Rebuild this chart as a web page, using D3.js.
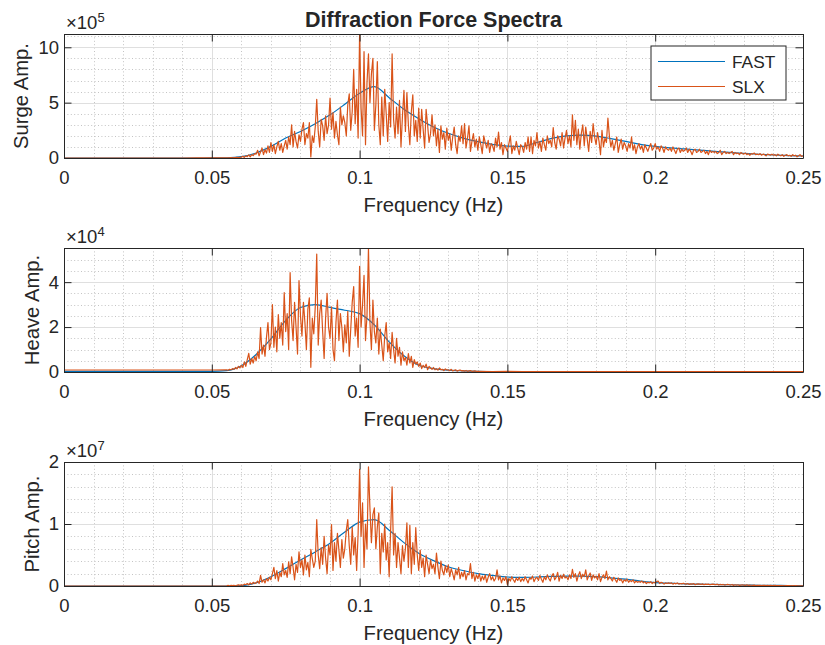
<!DOCTYPE html>
<html>
<head>
<meta charset="utf-8">
<script src="https://cdn.jsdelivr.net/npm/d3@7"></script>
<style>
  body { margin: 0; background: #fff; }
  text { font-family: "Liberation Sans", Arial, Helvetica, sans-serif; fill: #262626; }
</style>
</head>
<body>
<svg id="chart" width="825" height="645"></svg>
<script>
// ---- data (amplitudes are in units of 10^exponent of each panel) ----
const xTicks = [0, 0.05, 0.1, 0.15, 0.2, 0.25];
const xTickLabels = ["0", "0.05", "0.1", "0.15", "0.2", "0.25"];
const xMinorStep = 0.01;
const seriesNames = ["FAST", "SLX"];
const panelLabels = ["Surge Amp.", "Heave Amp.", "Pitch Amp."];
const panelExponents = [5, 4, 7];
const panelYMax = [11.2, 5.52, 2];
const panelYTicks = [[0, 5, 10], [0, 2, 4], [0, 1, 2]];
const panelYMinorStep = [1, 0.5, 0.2];

// FAST: smooth spectra, sampled every 0.005 Hz from 0 to 0.25 Hz
const fastStep = 0.005;
const surgeFAST = [0, 0, 0, 0, 0, 0, 0, 0, 0, 0, 0.005, 0.02, 0.12, 0.45, 1.05, 1.8, 2.4, 3.1, 3.9, 4.85,
  5.85, 6.45, 5.45, 4.4, 3.55, 2.8, 2.23, 1.8, 1.48, 1.23, 1.07, 1.05, 1.4, 1.78, 2.0, 2.07, 1.97, 1.75, 1.5, 1.23,
  1.05, 0.92, 0.82, 0.72, 0.6, 0.5, 0.42, 0.34, 0.27, 0.22, 0.18];
const heaveFAST = [0.03, 0.03, 0.03, 0.03, 0.03, 0.03, 0.03, 0.03, 0.03, 0.03, 0.03, 0.06, 0.28, 0.78, 1.47, 2.3, 2.87, 3.0, 2.88, 2.75,
  2.6, 2.1, 1.34, 0.72, 0.3, 0.15, 0.08, 0.05, 0.03, 0.02, 0.02, 0.02, 0.02, 0.02, 0.02, 0.02, 0.02, 0.02, 0.02, 0.02,
  0.02, 0.02, 0.02, 0.02, 0.02, 0.02, 0.02, 0.02, 0.02, 0.02, 0.02];
const pitchFAST = [0, 0, 0, 0, 0, 0, 0, 0, 0, 0, 0, 0, 0.005, 0.05, 0.15, 0.28, 0.42, 0.55, 0.69, 0.87,
  1.03, 1.07, 0.9, 0.7, 0.53, 0.41, 0.31, 0.25, 0.2, 0.17, 0.145, 0.14, 0.145, 0.155, 0.16, 0.16, 0.15, 0.13, 0.11, 0.08,
  0.055, 0.045, 0.035, 0.03, 0.025, 0.02, 0.015, 0.012, 0.01, 0.008, 0.005];

// SLX: coarse lead-in (0..0.05 Hz every 0.005), then fine spectrum every 0.0005 Hz from 0.055 Hz
const slxCoarseStep = 0.005;
const slxFineStart = 0.055;
const slxFineStep = 0.0005;
const surgeSLXLow = [0, 0, 0, 0, 0, 0, 0, 0, 0, 0.005, 0.01];
const surgeSLX = [
  0.01, 0.02, 0.01, 0.03, 0.02, 0.04, 0.03, 0.05, 0.04, 0.06,
  0.08, 0.15, 0.05, 0.2, 0.12, 0.28, 0.1, 0.3, 0.22, 0.4,
  0.35, 0.7, 0.2, 0.55, 0.9, 0.3, 0.75, 0.45, 1.1, 0.5,
  1.4, 0.6, 1.2, 0.4, 1.0, 1.5, 0.7, 1.3, 0.5, 1.1,
  1.6, 0.8, 1.9, 1.2, 3.0, 1.0, 2.4, 1.5, 0.9, 2.1,
  1.5, 2.6, 3.2, 1.2, 2.2, 1.8, 3.2, 0.1, 2.0, 1.4,
  2.8, 5.3, 2.4, 1.0, 3.5, 2.9, 1.6, 3.8, 2.2, 3.0,
  5.4, 2.6, 4.1, 1.8, 3.3, 2.1, 1.2, 4.6, 3.0, 3.8,
  3.2, 2.0, 4.8, 5.8, 2.5, 4.2, 8.0, 3.1, 6.2, 1.8,
  11.2, 4.5, 2.0, 9.6, 1.2, 6.8, 9.4, 5.0, 7.6, 9.0,
  2.5, 4.8, 8.7, 3.0, 1.2, 5.5, 2.0, 6.2, 4.0, 1.5,
  5.0, 2.8, 9.4, 3.5, 1.8, 4.6, 2.2, 5.2, 1.0, 3.8,
  6.1, 2.4, 5.9, 3.0, 1.2, 4.2, 5.7, 2.0, 3.4, 1.5,
  4.5, 1.8, 4.4, 2.6, 0.9, 4.4, 3.0, 1.4, 2.2, 3.9,
  2.0, 3.0, 1.1, 2.6, 0.5, 2.9, 1.7, 2.3, 0.8, 2.7,
  1.6, 2.2, 0.7, 1.9, 2.8, 1.2, 0.4, 2.0, 1.5, 2.9,
  1.3, 3.1, 0.9, 1.8, 2.9, 0.6, 1.5, 2.2, 1.0, 1.7,
  0.7, 1.9, 1.2, 0.4, 2.0, 1.4, 0.9, 1.6, 0.5, 1.3,
  1.1, 0.6, 1.8, 1.0, 2.35, 0.8, 1.4, 0.3, 1.2, 0.9,
  0.6, 1.3, 2.0, 0.4, 1.1, 0.7, 1.5, 0.9, 0.3, 1.2,
  1.0, 0.5, 1.4, 0.8, 1.9, 0.6, 1.9, 0.4, 1.6, 1.1,
  2.3, 0.9, 1.5, 0.6, 1.8, 1.2, 0.7, 2.0, 1.3, 1.6,
  1.0, 2.75, 1.4, 0.8, 2.0, 1.7, 1.1, 2.3, 0.9, 1.8,
  2.5, 1.3, 2.0, 1.0, 3.9, 1.6, 3.4, 1.2, 2.6, 0.8,
  2.2, 3.0, 1.1, 2.8, 1.7, 0.6, 2.4, 1.4, 3.1, 1.9,
  1.2, 2.3, 1.5, 0.3, 2.5, 1.0, 1.8, 1.4, 3.6, 2.0,
  1.0, 1.6, 0.7, 1.3, 1.9, 0.5, 1.2, 1.7, 0.8, 1.4,
  1.1, 0.6, 1.3, 0.9, 1.9, 0.7, 1.2, 0.4, 1.0, 1.3,
  0.8, 1.1, 0.5, 1.2, 0.9, 0.6, 1.0, 1.3, 0.7, 0.9,
  1.3, 0.8, 1.0, 0.6, 1.1, 0.9, 0.5, 1.0, 0.8, 0.7,
  0.9, 0.6, 1.0, 0.7, 0.4, 0.8, 0.9, 0.5, 0.8, 0.6,
  0.7, 0.9, 0.5, 0.8, 0.6, 0.3, 0.7, 0.8, 0.5, 0.6,
  0.8, 0.5, 0.6, 0.7, 0.4, 0.6, 0.3, 0.7, 0.5, 0.6,
  0.5, 0.6, 0.4, 0.5, 0.7, 0.3, 0.5, 0.6, 0.4, 0.5,
  0.4, 0.5, 0.6, 0.3, 0.5, 0.4, 0.45, 0.3, 0.5, 0.4,
  0.35, 0.45, 0.3, 0.4, 0.25, 0.4, 0.35, 0.45, 0.3, 0.35,
  0.3, 0.4, 0.25, 0.35, 0.3, 0.2, 0.35, 0.3, 0.25, 0.35,
  0.25, 0.3, 0.2, 0.35, 0.25, 0.2, 0.3, 0.15, 0.25, 0.3,
  0.2, 0.25, 0.15, 0.3, 0.2, 0.25, 0.1, 0.2, 0.3, 0.15, 0.2];
const surgeSLXTail = [];

const heaveSLXLow = [0.09, 0.09, 0.09, 0.09, 0.09, 0.09, 0.09, 0.09, 0.09, 0.09, 0.09];
const heaveSLX = [
  0.1, 0.08, 0.12, 0.1, 0.15, 0.12, 0.2, 0.14, 0.25, 0.18,
  0.3, 0.2, 0.45, 0.25, 0.55, 0.83, 0.35, 0.6, 0.4, 0.7,
  0.5, 0.9, 0.6, 1.98, 0.8, 1.2, 0.7, 1.54, 2.2, 1.0,
  1.3, 3.0, 1.1, 2.0, 0.9, 2.56, 1.5, 2.2, 1.2, 3.53,
  1.8, 2.6, 1.0, 4.42, 2.3, 1.4, 3.1, 2.0, 0.8, 4.07,
  2.5, 1.6, 3.1, 2.2, 1.0, 2.8, 3.3, 0.21, 2.4, 1.7,
  2.9, 5.25, 1.2, 2.6, 3.2, 1.8, 0.6, 2.4, 3.5, 2.0,
  1.5, 2.9, 1.0, 0.5, 2.2, 3.2, 1.4, 2.6, 1.98, 0.9,
  2.1, 1.3, 2.7, 0.7, 1.9, 3.1, 3.8, 1.6, 2.4, 1.1,
  4.7, 2.0, 3.0, 4.3, 1.4, 2.5, 5.52, 2.2, 1.0, 3.2,
  1.8, 1.3, 2.4, 0.8, 1.91, 1.2, 0.5, 1.6, 2.2, 0.9,
  1.3, 0.6, 1.76, 1.0, 0.4, 1.5, 0.7, 1.1, 0.3, 0.9,
  0.5, 0.65, 0.3, 0.82, 0.4, 0.7, 0.2, 0.55, 0.35, 0.45,
  0.25, 0.4, 0.15, 0.3, 0.2, 0.35, 0.1, 0.25, 0.18, 0.12,
  0.2, 0.1, 0.15, 0.08, 0.18, 0.1, 0.12, 0.06, 0.14, 0.09,
  0.1, 0.06, 0.12, 0.05, 0.08, 0.1, 0.04, 0.07, 0.09, 0.05,
  0.06, 0.04, 0.07, 0.03, 0.05, 0.06, 0.03, 0.04, 0.05, 0.03];
// beyond 0.14 Hz the heave SLX spectrum is flat; coarse samples every 0.005 Hz
const heaveSLXTail = [0.03, 0.02, 0.03, 0.02, 0.02, 0.02, 0.02, 0.02, 0.02, 0.02, 0.02, 0.02,
  0.02, 0.02, 0.02, 0.02, 0.02, 0.02, 0.02, 0.02, 0.02, 0.02, 0.02];

const pitchSLXLow = [0, 0, 0, 0, 0, 0, 0, 0, 0, 0, 0];
const pitchSLX = [
  0.0, 0.01, 0.0, 0.01, 0.005, 0.01, 0.0, 0.01, 0.02, 0.01,
  0.02, 0.01, 0.03, 0.02, 0.04, 0.02, 0.05, 0.03, 0.06, 0.04,
  0.05, 0.08, 0.04, 0.17, 0.06, 0.1, 0.05, 0.12, 0.08, 0.14,
  0.1, 0.2, 0.3, 0.12, 0.25, 0.08, 0.22, 0.15, 0.36, 0.18,
  0.25, 0.14, 0.39, 0.2, 0.47, 0.3, 0.1, 0.35, 0.22, 0.55,
  0.3, 0.42, 0.18, 0.5, 0.26, 0.38, 0.15, 0.59, 0.44, 0.3,
  0.4, 1.07, 0.5, 0.28, 0.62, 0.35, 0.8, 0.45, 0.2, 0.66,
  0.5, 0.99, 0.25, 0.7, 0.4, 0.85, 0.58, 0.3, 0.75, 0.45,
  0.6, 0.9, 1.07, 0.65, 0.35, 0.95, 0.5, 0.78, 0.25, 0.85,
  1.88, 0.8, 1.34, 0.3, 1.0, 0.6, 1.92, 1.25, 0.7, 1.15,
  1.26, 0.6, 0.95, 1.18, 0.2, 0.85, 0.55, 1.0, 0.42, 0.7,
  0.15, 0.9, 1.6, 0.5, 0.85, 0.3, 0.7, 0.45, 0.2, 0.65,
  0.4, 0.6, 1.02, 0.3, 0.98, 0.2, 0.7, 0.35, 0.94, 0.5,
  0.25, 0.58, 0.3, 0.45, 0.15, 0.5, 0.35, 0.2, 0.42, 0.28,
  0.35, 0.2, 0.53, 0.3, 0.12, 0.4, 0.25, 0.18, 0.33, 0.22,
  0.34, 0.15, 0.28, 0.2, 0.1, 0.26, 0.18, 0.3, 0.12, 0.22,
  0.15, 0.25, 0.1, 0.2, 0.18, 0.36, 0.12, 0.22, 0.08, 0.18,
  0.12, 0.2, 0.08, 0.16, 0.1, 0.18, 0.06, 0.14, 0.2, 0.1,
  0.15, 0.08, 0.12, 0.26, 0.1, 0.16, 0.05, 0.13, 0.09, 0.15,
  0.02, 0.12, 0.08, 0.15, 0.1, 0.06, 0.13, 0.09, 0.14, 0.07,
  0.12, 0.08, 0.15, 0.1, 0.05, 0.13, 0.11, 0.16, 0.07, 0.12,
  0.14, 0.09, 0.17, 0.11, 0.06, 0.15, 0.1, 0.18, 0.12, 0.08,
  0.16, 0.2, 0.1, 0.14, 0.22, 0.08, 0.17, 0.12, 0.19, 0.13,
  0.15, 0.1, 0.18, 0.12, 0.27, 0.14, 0.2, 0.08, 0.17, 0.23,
  0.12, 0.19, 0.15, 0.26, 0.1, 0.16, 0.21, 0.09, 0.18, 0.13,
  0.16, 0.1, 0.2, 0.07, 0.14, 0.18, 0.12, 0.24, 0.1, 0.15,
  0.12, 0.08, 0.14, 0.1, 0.06, 0.13, 0.09, 0.11, 0.05, 0.1,
  0.08, 0.11, 0.06, 0.09, 0.07, 0.1, 0.05, 0.08, 0.06, 0.07,
  0.06, 0.08, 0.05, 0.07, 0.04, 0.06, 0.05, 0.07, 0.04, 0.06,
  0.05, 0.07, 0.08, 0.04, 0.06, 0.05, 0.03, 0.05, 0.04, 0.05,
  0.04, 0.05, 0.03, 0.045, 0.035, 0.05, 0.03, 0.04, 0.035, 0.045,
  0.035, 0.03, 0.04, 0.025, 0.035, 0.03, 0.04, 0.02, 0.03, 0.035,
  0.03, 0.025, 0.035, 0.02, 0.03, 0.025, 0.03, 0.02, 0.025, 0.03,
  0.025, 0.02, 0.03, 0.015, 0.025, 0.02, 0.025, 0.015, 0.02, 0.025,
  0.02, 0.015, 0.025, 0.01, 0.02, 0.015, 0.02, 0.01, 0.015, 0.02,
  0.015, 0.01, 0.02, 0.01, 0.015, 0.012, 0.01, 0.015, 0.008, 0.012,
  0.01, 0.012, 0.008, 0.01, 0.012, 0.006, 0.01, 0.008, 0.01, 0.006,
  0.008, 0.01, 0.006, 0.008, 0.005, 0.008, 0.006, 0.004, 0.007, 0.005,
  0.005, 0.006, 0.004, 0.005, 0.003, 0.005, 0.004, 0.003, 0.004, 0.003, 0.004];
const pitchSLXTail = [];

// ---- layout ----
const colors = ["#0072BD", "#D95319"];
const axLeft = 64, axRight = 803, axHeight = 124;
const axTops = [34, 248, 462];
const tickLen = 7.5;
const fontTick = 18.5, fontLabel = 20.3, fontTitle = 21.5, fontLegend = 17.3;

const fastSets = [surgeFAST, heaveFAST, pitchFAST];
const slxSets = [[surgeSLXLow, surgeSLX, surgeSLXTail], [heaveSLXLow, heaveSLX, heaveSLXTail], [pitchSLXLow, pitchSLX, pitchSLXTail]];

const fastPoints = vals => vals.map((v, i) => [i * fastStep, v]);
const slxPoints = ([low, fine, tail]) => {
  const fineEnd = slxFineStart + fine.length * slxFineStep;
  return [].concat(
    low.map((v, i) => [i * slxCoarseStep, v]),
    fine.map((v, i) => [slxFineStart + i * slxFineStep, v]),
    tail.map((v, i) => [fineEnd + i * slxCoarseStep, v]));
};

const svg = d3.select("#chart");
const x = d3.scaleLinear().domain([0, 0.25]).range([axLeft, axRight]);

svg.append("text")
  .attr("x", (axLeft + axRight) / 2).attr("y", 27)
  .attr("text-anchor", "middle").attr("font-weight", "bold").attr("font-size", fontTitle)
  .text("Diffraction Force Spectra");

panelLabels.forEach((label, p) => {
  const top = axTops[p], bottom = top + axHeight;
  const y = d3.scaleLinear().domain([0, panelYMax[p]]).range([bottom, top]);
  const g = svg.append("g");

  const clipId = "clip" + p;
  g.append("clipPath").attr("id", clipId).append("rect")
    .attr("x", axLeft).attr("y", top).attr("width", axRight - axLeft).attr("height", axHeight);

  // minor grid (dotted)
  const isMajor = (v, arr) => arr.some(t => Math.abs(t - v) < 1e-9);
  const xMinor = d3.range(0, 0.25 + 1e-9, xMinorStep).filter(v => !isMajor(v, xTicks));
  const yMinor = d3.range(0, panelYMax[p] + 1e-9, panelYMinorStep[p]).filter(v => !isMajor(v, panelYTicks[p]));
  const minor = g.append("g").attr("stroke", "#c4c4c4").attr("stroke-dasharray", "1,2.4").attr("stroke-width", 1);
  minor.selectAll("line.vx").data(xMinor).enter().append("line")
    .attr("x1", d => Math.round(x(d)) + 0.5).attr("x2", d => Math.round(x(d)) + 0.5)
    .attr("y1", top).attr("y2", bottom);
  minor.selectAll("line.hy").data(yMinor).enter().append("line")
    .attr("y1", d => Math.round(y(d)) + 0.5).attr("y2", d => Math.round(y(d)) + 0.5)
    .attr("x1", axLeft).attr("x2", axRight);

  // major grid (solid, light)
  const major = g.append("g").attr("stroke", "#dfdfdf").attr("stroke-width", 1);
  major.selectAll("line.vx").data(xTicks.slice(1, -1)).enter().append("line")
    .attr("x1", d => Math.round(x(d)) + 0.5).attr("x2", d => Math.round(x(d)) + 0.5)
    .attr("y1", top).attr("y2", bottom);
  major.selectAll("line.hy").data(panelYTicks[p].filter(v => v > 0 && v < panelYMax[p])).enter().append("line")
    .attr("y1", d => Math.round(y(d)) + 0.5).attr("y2", d => Math.round(y(d)) + 0.5)
    .attr("x1", axLeft).attr("x2", axRight);

  // series
  const lineFast = d3.line().x(d => x(d[0])).y(d => y(d[1])).curve(d3.curveMonotoneX);
  const lineSlx = d3.line().x(d => x(d[0])).y(d => y(d[1]));
  const plot = g.append("g").attr("clip-path", `url(#${clipId})`).attr("fill", "none").attr("stroke-width", 1.2);
  plot.append("path").attr("d", lineFast(fastPoints(fastSets[p]))).attr("stroke", colors[0]);
  plot.append("path").attr("d", lineSlx(slxPoints(slxSets[p]))).attr("stroke", colors[1]).attr("stroke-linejoin", "round");

  // axes (ticks point inward, box on)
  const styleAxis = sel => {
    sel.select(".domain").attr("stroke", "#262626");
    sel.selectAll(".tick line").attr("stroke", "#262626");
    sel.selectAll(".tick text").attr("fill", "#262626").attr("font-size", fontTick)
      .attr("font-family", '"Liberation Sans", Arial, sans-serif');
  };
  const xAxis = d3.axisBottom(x).tickValues(xTicks).tickFormat((d, i) => xTickLabels[i])
    .tickSizeInner(-tickLen).tickSizeOuter(0).tickPadding(13);
  g.append("g").attr("transform", `translate(0,${bottom})`).call(xAxis).call(styleAxis);
  g.append("g").attr("transform", `translate(0,${top})`)
    .call(d3.axisTop(x).tickValues(xTicks).tickFormat("").tickSizeInner(-tickLen).tickSizeOuter(0)).call(styleAxis);
  const yLeft = g.append("g").attr("transform", `translate(${axLeft},0)`)
    .call(d3.axisLeft(y).tickValues(panelYTicks[p]).tickFormat(d3.format("d"))
      .tickSizeInner(-tickLen).tickSizeOuter(0).tickPadding(5)).call(styleAxis);
  g.append("g").attr("transform", `translate(${axRight},0)`)
    .call(d3.axisRight(y).tickValues(panelYTicks[p]).tickFormat("").tickSizeInner(-tickLen).tickSizeOuter(0)).call(styleAxis);

  // exponent
  const ex = g.append("text").attr("x", axLeft + 2).attr("y", top - 5).attr("font-size", fontTick);
  ex.append("tspan").text("\u00d710");
  ex.append("tspan").attr("dy", -7.5).attr("font-size", 13).text(panelExponents[p]);

  // labels
  let maxW = 0;
  yLeft.selectAll(".tick text").each(function () { maxW = Math.max(maxW, this.getBBox().width); });
  const yLabX = axLeft - 5 - maxW - 10;
  g.append("text").attr("transform", `translate(${yLabX},${(top + bottom) / 2}) rotate(-90)`)
    .attr("text-anchor", "middle").attr("font-size", fontLabel).text(label);
  g.append("text").attr("x", (axLeft + axRight) / 2).attr("y", bottom + 53.5)
    .attr("text-anchor", "middle").attr("font-size", fontLabel).text("Frequency (Hz)");

  // legend (first panel)
  if (p === 0) {
    const lg = g.append("g").attr("transform", "translate(651,46)");
    lg.append("rect").attr("width", 135).attr("height", 54).attr("fill", "#fff").attr("stroke", "#262626");
    seriesNames.forEach((name, i) => {
      const ly = 15.5 + i * 25;
      lg.append("line").attr("x1", 7).attr("x2", 74).attr("y1", ly).attr("y2", ly)
        .attr("stroke", colors[i]).attr("stroke-width", 1.2);
      lg.append("text").attr("x", 81).attr("y", ly + 6.5).attr("font-size", fontLegend).text(name);
    });
  }
});
</script>
</body>
</html>
